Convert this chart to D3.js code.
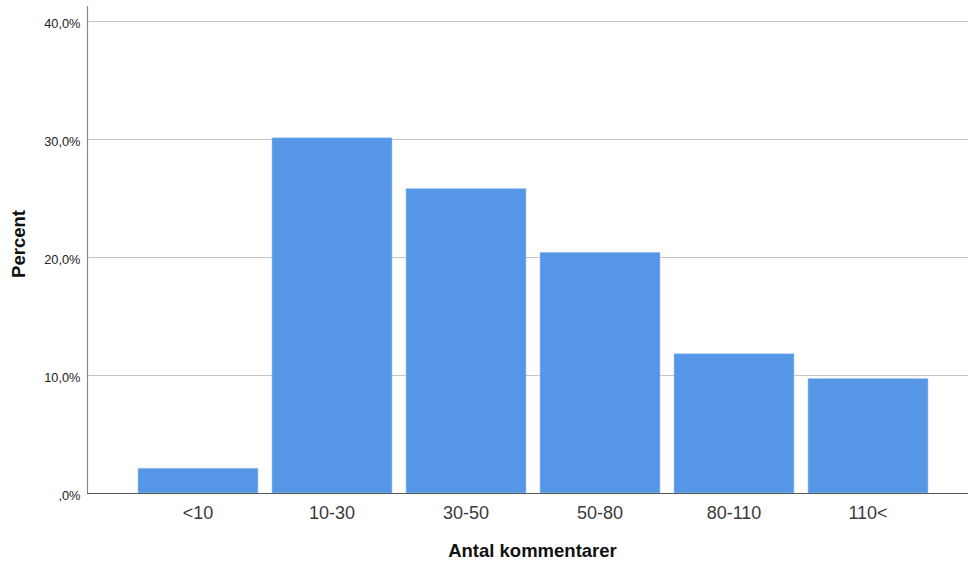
<!DOCTYPE html>
<html><head><meta charset="utf-8">
<script src="https://cdn.jsdelivr.net/npm/d3@7"></script>
<style>body{margin:0;background:#fff;} svg{display:block;font-family:Arial,"Liberation Sans",sans-serif;}</style>
</head><body>
<svg id="c" width="968" height="561"></svg>
<script>
const categories = ["<10", "10-30", "30-50", "50-80", "80-110", "110<"];
const percents = [2.1, 30.1, 25.8, 20.4, 11.8, 9.7];
const yTicks = [0, 10, 20, 30, 40];
const yTickLabels = [",0%", "10,0%", "20,0%", "30,0%", "40,0%"];
const xTitle = "Antal kommentarer";
const yTitle = "Percent";

(function () {
const svg = d3.select("#c");
const mLeft = 87, mRight = 968, mTop = 21, mBottom = 493;
const y = d3.scaleLinear().domain([0, 40]).range([mBottom, mTop]);
const p = 14 / 134;
const x = d3.scaleBand().domain(categories).range([131, 935]).paddingInner(p).paddingOuter(p / 2);

// gridlines
svg.append("g").selectAll("line").data(yTicks.filter(d => d > 0)).join("line")
  .attr("x1", mLeft).attr("x2", mRight)
  .attr("y1", d => y(d) + 0.5).attr("y2", d => y(d) + 0.5)
  .attr("stroke", "#c4c4c4").attr("stroke-width", 1.2);

// bars
svg.append("g").selectAll("rect").data(categories).join("rect")
  .attr("x", d => x(d)).attr("width", x.bandwidth())
  .attr("y", (d, i) => y(percents[i])).attr("height", (d, i) => mBottom - y(percents[i]))
  .attr("fill", "#5596e6").attr("stroke", "#a9c9f0").attr("stroke-width", 0.6);

// axes lines
svg.append("line").attr("x1", mLeft + 0.5).attr("x2", mLeft + 0.5).attr("y1", 6).attr("y2", mBottom)
  .attr("stroke", "#888").attr("stroke-width", 1.2);
svg.append("line").attr("x1", mLeft).attr("x2", mRight).attr("y1", mBottom + 0.5).attr("y2", mBottom + 0.5)
  .attr("stroke", "#555").attr("stroke-width", 1.2);

// y tick labels
svg.append("g").selectAll("text").data(yTicks).join("text")
  .attr("x", 80.5).attr("y", d => y(d) + 7)
  .attr("text-anchor", "end").attr("font-size", 12.8).attr("fill", "#222")
  .text((d, i) => yTickLabels[i]);

// x labels
svg.append("g").selectAll("text").data(categories).join("text")
  .attr("x", d => x(d) + x.bandwidth() / 2).attr("y", 519)
  .attr("text-anchor", "middle").attr("font-size", 18).attr("fill", "#3a3a3a")
  .text(d => d);

// titles
svg.append("text").attr("x", 532.5).attr("y", 557).attr("text-anchor", "middle")
  .attr("font-size", 18.5).attr("font-weight", "bold").attr("fill", "#111").text(xTitle);
svg.append("text").attr("transform", "translate(24.5,244) rotate(-90)").attr("text-anchor", "middle")
  .attr("font-size", 18.5).attr("font-weight", "bold").attr("fill", "#111").text(yTitle);
})();
</script>
</body></html>
